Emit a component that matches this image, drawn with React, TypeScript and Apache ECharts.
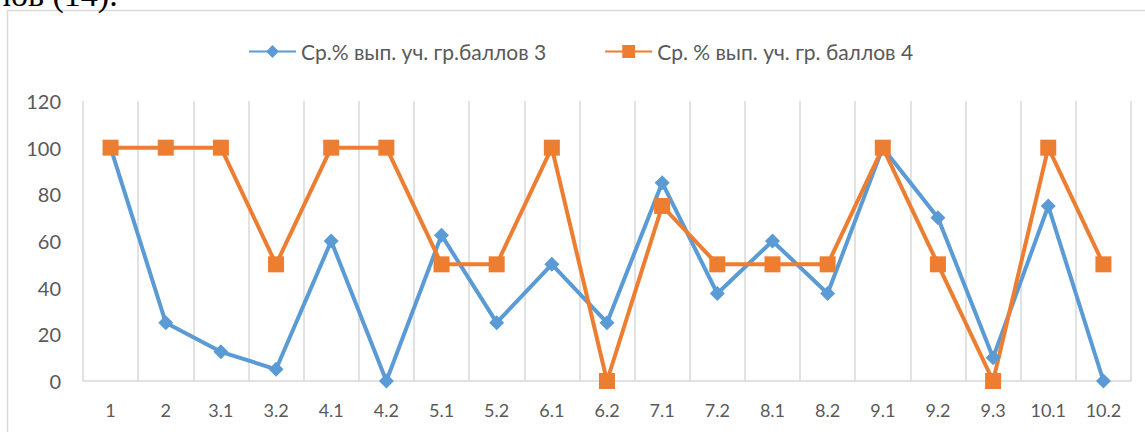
import React, { useEffect, useRef } from "react";
import * as echarts from "echarts";

const categories = ["1", "2", "3.1", "3.2", "4.1", "4.2", "5.1", "5.2", "6.1", "6.2", "7.1", "7.2", "8.1", "8.2", "9.1", "9.2", "9.3", "10.1", "10.2"];
const series3Name = "Ср.% вып. уч. гр.баллов 3";
const series4Name = "Ср. % вып. уч. гр. баллов 4";
const series3 = [100, 25, 12.5, 5, 60, 0, 62.5, 25, 50, 25, 85, 37.5, 60, 37.5, 100, 70, 10, 75, 0];
const series4 = [100, 100, 100, 50, 100, 100, 50, 50, 100, 0, 75, 50, 50, 50, 100, 50, 0, 100, 50];
const yTicks = { min: 0, max: 120, interval: 20 };
const headerText = "лов (14).";

export default function App() {
  const ref = useRef<HTMLDivElement>(null);
  useEffect(() => {
    if (!ref.current) return;
    const chart = echarts.init(ref.current, null, { renderer: "svg" });
    const font = "Lato, 'Noto Sans', sans-serif";
    chart.setOption({
      animation: false,
      textStyle: { fontFamily: font },
      graphic: [
        {
          type: "rect",
          shape: { x: 7.5, y: 10.5, width: 1300, height: 600 },
          style: { fill: "none", stroke: "#d9d9d9", lineWidth: 1.5 },
          silent: true,
        },
        {
          type: "text",
          x: -6,
          y: -6,
          style: {
            text: headerText,
            fontFamily: "'Liberation Serif', 'DejaVu Serif', serif",
            fontSize: 34,
            fill: "#000",
            verticalAlign: "middle",
          },
        },
      ],
      legend: {
        left: 243,
        top: 36,
        itemWidth: 47,
        itemHeight: 16,
        itemGap: 58,
        textStyle: { color: "#595959", fontSize: 21, fontFamily: font },
        data: [series3Name, series4Name],
      },
      grid: { left: 83, right: 14, top: 101, bottom: 51, containLabel: false },
      xAxis: {
        type: "category",
        data: categories,
        boundaryGap: true,
        axisLine: { show: true, lineStyle: { color: "#d9d9d9", width: 1.5 } },
        axisTick: { show: false },
        splitLine: { show: true, lineStyle: { color: "#d9d9d9", width: 1.5 } },
        axisLabel: { color: "#595959", fontSize: 18, margin: 20, fontFamily: font, interval: 0 },
      },
      yAxis: {
        type: "value",
        min: yTicks.min,
        max: yTicks.max,
        interval: yTicks.interval,
        axisLine: { show: false },
        axisTick: { show: false },
        splitLine: { show: false },
        axisLabel: { color: "#595959", fontSize: 20, margin: 22, fontFamily: font },
      },
      series: [
        {
          name: series3Name,
          type: "line",
          data: series3,
          symbol: "diamond",
          symbolSize: 15,
          lineStyle: { color: "#5B9BD5", width: 4 },
          itemStyle: { color: "#5B9BD5" },
        },
        {
          name: series4Name,
          type: "line",
          data: series4,
          symbol: "rect",
          symbolSize: 16,
          lineStyle: { color: "#ED7D31", width: 4 },
          itemStyle: { color: "#ED7D31" },
        },
      ],
    });
    return () => chart.dispose();
  }, []);
  return (
    <div
      ref={ref}
      style={{ position: "absolute", left: 0, top: 0, width: 1145, height: 432 }}
    />
  );
}
